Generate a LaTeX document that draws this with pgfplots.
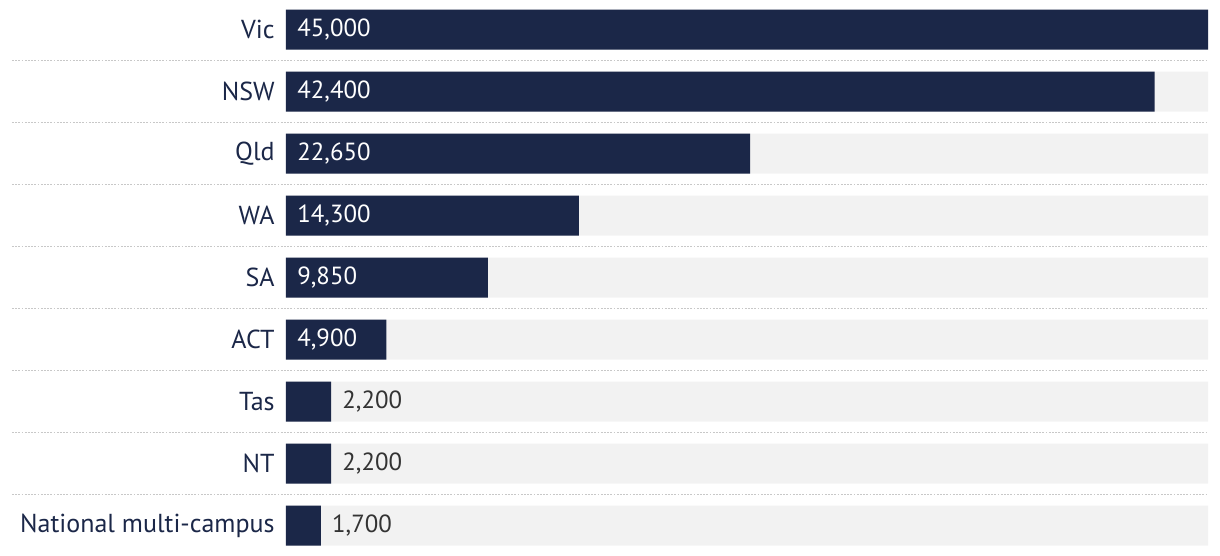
\documentclass[border=0pt]{standalone}
\usepackage{pgfplots}
\pgfplotsset{compat=1.18}
\usepackage{pgfplotstable}
\usepackage{fontspec}
\setmainfont{PT Sans}
\definecolor{navy}{HTML}{1B2748}
\definecolor{bggrey}{HTML}{F2F2F2}
\definecolor{dotgrey}{HTML}{C8C8C8}
\definecolor{labtext}{HTML}{333333}
\pgfplotstableread{
y v
0 45000
1 42400
2 22650
3 14300
4 9850
5 4900
6 2200
7 2200
8 1700
}\data
\pgfplotstableread{
y x v
0 0 45000
1 0 42400
2 0 22650
3 0 14300
4 0 9850
5 0 4900
}\inlab
\pgfplotstableread{
y x v
6 2200 2200
7 2200 2200
8 1700 1700
}\outlab
\begin{document}
\begin{tikzpicture}
\begin{axis}[
  at={(0,0)}, anchor=south west,
  scale only axis, width=461pt, height=279pt,
  xmin=0, xmax=45000, ymin=-0.5, ymax=8.5,
  y dir=reverse,
  axis line style={draw=none},
  clip=false,
  ytick={0,...,8},
  yticklabels={Vic,NSW,Qld,WA,SA,ACT,Tas,NT,National multi-campus},
  xtick=\empty,
  major tick length=0pt,
  yticklabel style={font=\fontsize{13}{15}\selectfont, text=navy, anchor=east, inner sep=0pt, xshift=-5.5pt},
  /pgf/number format/assume math mode=true,
  /pgf/number format/1000 sep={,},
]
% dotted separators
\pgfplotsinvokeforeach{0.5,1.5,...,7.5}{
  \draw[dotgrey, line width=0.9pt, dash pattern=on 0.9pt off 0.7pt] (axis cs:-13373,#1) -- (axis cs:45000,#1);
}
% background bars
\addplot[xbar, bar width=20pt, fill=bggrey, draw=none] coordinates {
(45000,0) (45000,1) (45000,2) (45000,3) (45000,4) (45000,5) (45000,6) (45000,7) (45000,8)};
% value bars
\addplot[xbar, bar width=20pt, fill=navy, draw=none] table[x=v, y=y] {\data};
% inside labels
\addplot[draw=none, mark=none, point meta=\thisrow{v},
  nodes near coords={\pgfmathprintnumber{\pgfplotspointmeta}},
  every node near coord/.style={anchor=west, inner sep=0pt, xshift=5.5pt, text=white, font=\fontsize{12.4}{14}\selectfont}]
  table[x=x, y=y] {\inlab};
% outside labels
\addplot[draw=none, mark=none, point meta=\thisrow{v},
  nodes near coords={\pgfmathprintnumber{\pgfplotspointmeta}},
  every node near coord/.style={anchor=west, inner sep=0pt, xshift=5.5pt, text=labtext, font=\fontsize{12.4}{14}\selectfont}]
  table[x=x, y=y] {\outlab};
\end{axis}
\pgfresetboundingbox
\path[use as bounding box] (-143pt,0.25pt) rectangle (467pt,278.25pt);
\end{tikzpicture}
\end{document}
